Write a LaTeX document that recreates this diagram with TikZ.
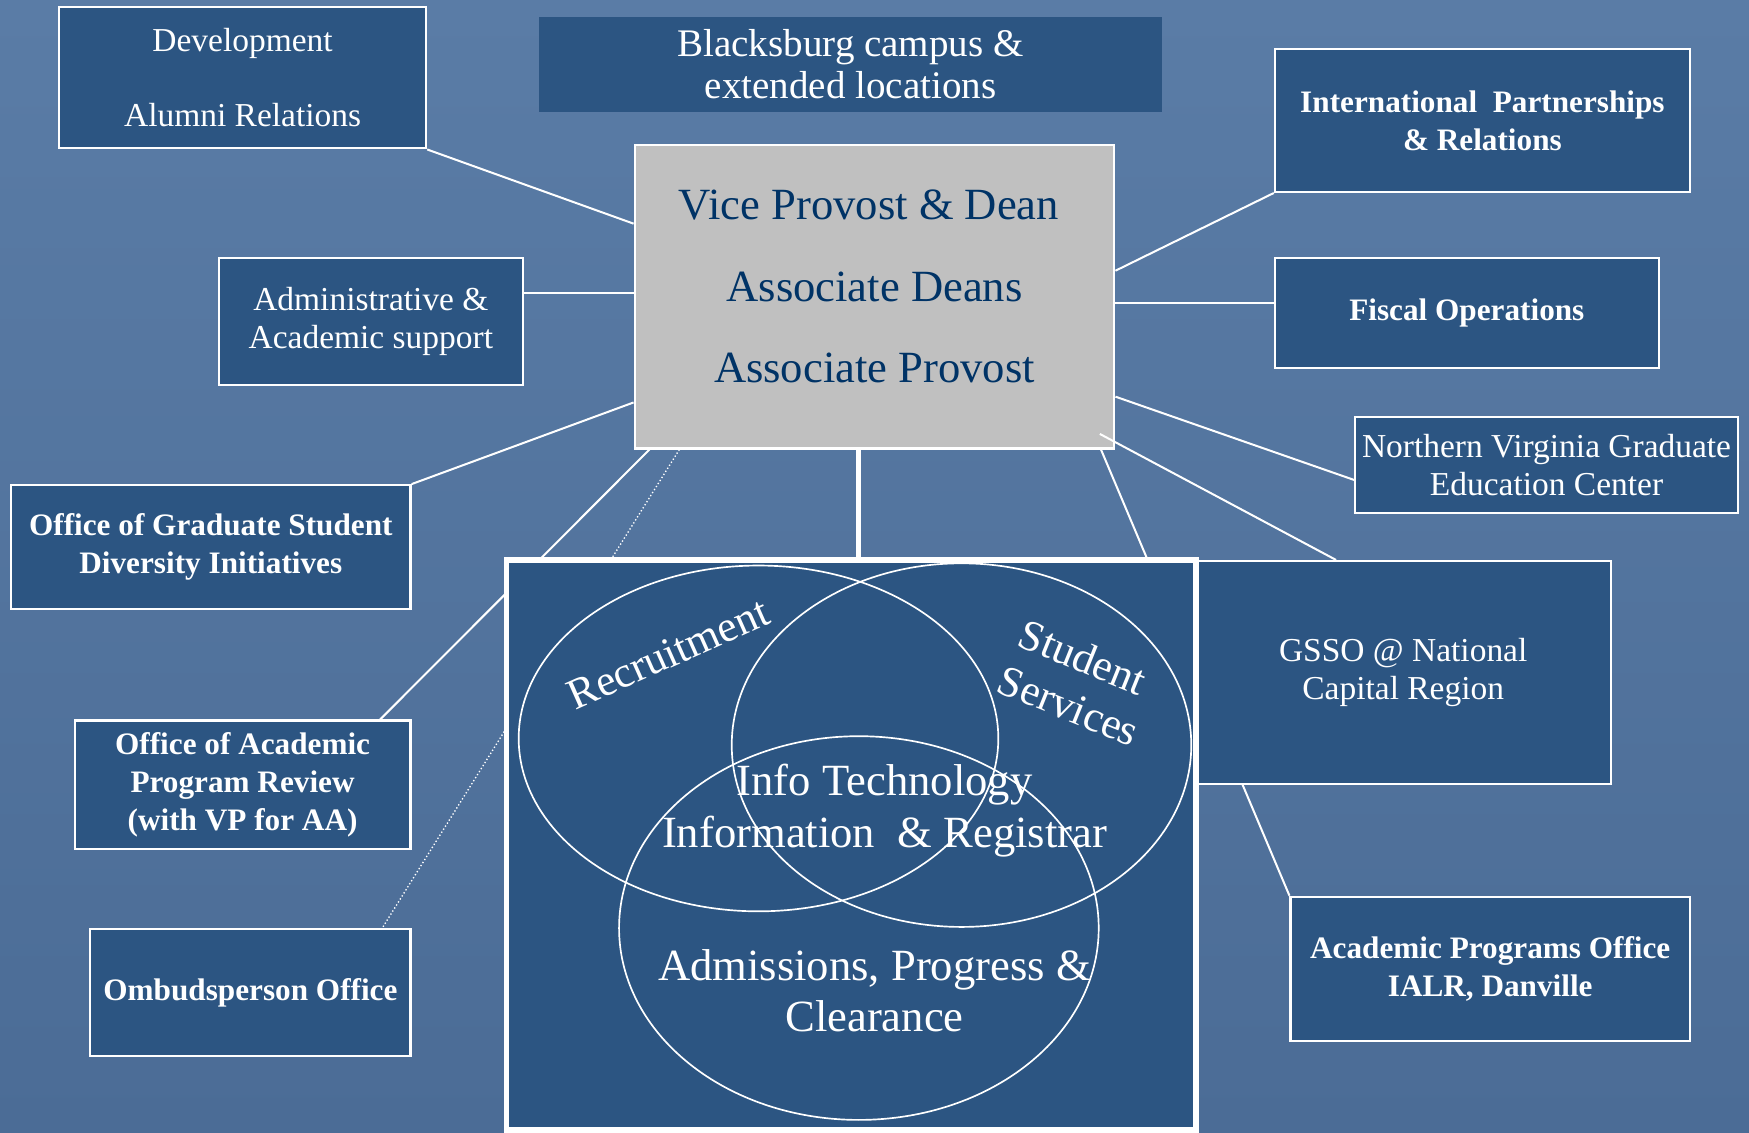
\documentclass[tikz,border=0pt]{standalone}
\usepackage{fontspec}
\setmainfont{Liberation Serif}
\usetikzlibrary{calc}
\definecolor{bgtop}{HTML}{5A7CA6}
\definecolor{bgbot}{HTML}{4B6C96}
\definecolor{boxblue}{HTML}{2C5582}
\definecolor{graybox}{HTML}{C0C0C0}
\definecolor{navy}{HTML}{003366}
\pgfdeclarelayer{back}
\pgfdeclarelayer{lines}
\pgfsetlayers{back,lines,main}
\tikzset{
  orgbox/.style={draw=white, line width=2pt, fill=boxblue, text=white, align=center,
    inner sep=0pt, font=\fontsize{30}{34}\selectfont},
  boldbox/.style={orgbox, font=\fontsize{28}{34}\selectfont\bfseries},
  graytext/.style={text=navy, inner sep=0pt, font=\fontsize{40}{44}\selectfont},
  venntext/.style={text=white, inner sep=0pt, align=center, font=\fontsize{40}{46}\selectfont},
  curvtext/.style={text=white, inner sep=0pt, font=\fontsize{39}{40}\selectfont},
  link/.style={draw=white, line width=1.8pt},
  thicklink/.style={draw=white, line width=4.5pt},
  dotlink/.style={draw=white, line width=1.2pt, dotted},
  vline/.style={draw=white, line width=1.5pt}
}
\begin{document}
\begin{tikzpicture}[x=1pt,y=-1pt]
\useasboundingbox (0,0) rectangle (1568,1015);
\begin{pgfonlayer}{back}
\shade[top color=bgtop, bottom color=bgbot] (0,0) rectangle (1568,1015);
\end{pgfonlayer}

% boxes
\node[orgbox, minimum width=329pt, minimum height=127pt] (dev) at (217.5,69.5)
  {Development\\[34pt]Alumni Relations};
\node[orgbox, draw=none, minimum width=559pt, minimum height=85pt,
  font=\fontsize{35}{38}\selectfont] (bburg) at (762.5,57.5)
  {Blacksburg campus \&\\extended locations};
\node[boldbox, minimum width=372pt, minimum height=128pt] (intl) at (1329,108)
  {International\ \ Partnerships\\\& Relations};
\node[orgbox, minimum width=273pt, minimum height=114pt] (admin) at (332.5,288)
  {Administrative \&\\Academic support};
\node[boldbox, minimum width=344pt, minimum height=99pt] (fiscal) at (1315,280.5)
  {Fiscal Operations};
\node[orgbox, minimum width=343pt, minimum height=86pt] (nova) at (1386.5,417)
  {Northern Virginia Graduate\\Education Center};
\node[boldbox, minimum width=358pt, minimum height=111pt] (div) at (189,490.5)
  {Office of Graduate Student\\Diversity Initiatives};
\node[orgbox, minimum width=372pt, minimum height=200pt] (gsso) at (1258,603)
  {GSSO @ National\\Capital Region};
\node[boldbox, minimum width=301pt, minimum height=115pt] (oapr) at (217.5,703.5)
  {Office of Academic\\Program Review\\(with VP for AA)};
\node[boldbox, minimum width=287pt, minimum height=114pt] (ombud) at (224.5,890)
  {Ombudsperson Office};
\node[boldbox, minimum width=358pt, minimum height=129pt] (apo) at (1336,868.5)
  {Academic Programs Office\\IALR, Danville};

% central gray box
\node[draw=white, line width=2pt, fill=graybox, minimum width=430pt, minimum height=272pt] (gray) at (784,266) {};
\node[graytext] (vp) at (779,184) {Vice Provost \& Dean};
\node[graytext] (ad) at (784,257) {Associate Deans};
\node[graytext] (ap) at (784,330) {Associate Provost};

% venn box
\node[draw=white, line width=5pt, fill=boxblue, minimum width=618pt, minimum height=511pt] (venn) at (763,757.5) {};
\draw[vline] (680,662) ellipse [x radius=215pt, y radius=155pt];
\draw[vline] (862,668) ellipse [x radius=206pt, y radius=163pt];
\draw[vline] (770,832) ellipse [x radius=215pt, y radius=172pt];
\node[curvtext, rotate=24] (rec) at (599,586) {Recruitment};
\node[curvtext, rotate=-22] (stu) at (971,589) {Student};
\node[curvtext, rotate=-22] (ser) at (958,633) {Services};
\node[venntext] (itech) at (793,703) {Info Technology};
\node[venntext] (info) at (793,750) {Information\ \ \& Registrar};
\node[venntext] (adm) at (784,888) {Admissions, Progress \&\\Clearance};

% connectors
\begin{pgfonlayer}{lines}
\draw[link] (dev.south east) -- ($(gray.north west)!0.261!(gray.south west)$);
\coordinate (aE) at ($(admin.north east)!0.28!(admin.south east)$);
\draw[link] (aE) -- (aE -| gray.west);
\draw[link] (div.north east) -- ($(gray.north west)!0.846!(gray.south west)$);
\draw[link] ($(gray.south west)!0.033!(gray.south east)$) -- ($(oapr.north west)!0.907!(oapr.north east)$);
\draw[dotlink] ($(gray.south west)!0.095!(gray.south east)$) -- ($(ombud.north west)!0.909!(ombud.north east)$);
\coordinate (gS) at ($(gray.south west)!0.467!(gray.south east)$);
\draw[thicklink] (gS) -- (gS |- venn.north);
\draw[link] ($(gray.north east)!0.415!(gray.south east)$) -- (intl.south west);
\coordinate (gE) at ($(gray.north east)!0.522!(gray.south east)$);
\draw[link] (gE) -- (gE -| fiscal.west);
\draw[link] ($(gray.north east)!0.827!(gray.south east)$) -- ($(nova.north west)!0.651!(nova.south west)$);
\draw[link] ($(gray.south west)!0.970!(gray.south east)$) -- (apo.north west);
\end{pgfonlayer}
\coordinate (gIn) at ($(gray.south east)+(-14,-14)$);
\draw[link] (gIn) -- ($(gsso.north west)!0.339!(gsso.north east)$);
\end{tikzpicture}
\end{document}
